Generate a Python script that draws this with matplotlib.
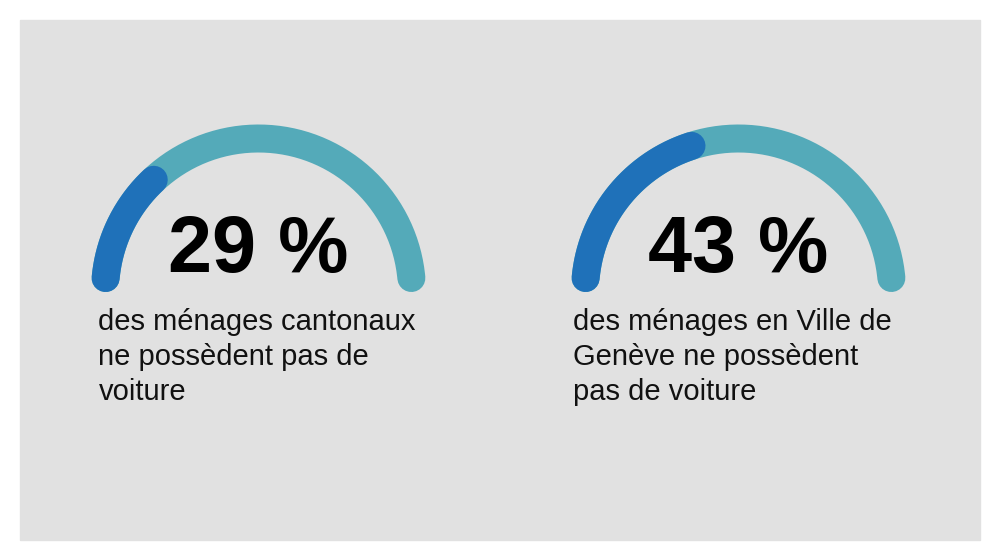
import matplotlib
matplotlib.use('Agg')
import matplotlib.pyplot as plt
from matplotlib.patches import Rectangle
import numpy as np

plt.rcParams['font.family'] = ['Liberation Sans', 'DejaVu Sans']

# data
values = [29, 43]
value_labels = ['29 %', '43 %']
captions = [
    ['des ménages cantonaux', 'ne possèdent pas de', 'voiture'],
    ['des ménages en Ville de', 'Genève ne possèdent', 'pas de voiture'],
]

# style
bg_color = '#e1e1e1'
track_color = '#54aab9'
fill_color = '#1f71b9'
centers_x = [258.5, 738.5]
center_y = 292
radius = 153.5
thick = 28          # px
text_x = [98.5, 573]
line_y = [330, 365, 400]

fig = plt.figure(figsize=(10, 5.6), dpi=100)
ax = fig.add_axes([0, 0, 1, 1])
ax.set_xlim(0, 1000)
ax.set_ylim(560, 0)
ax.axis('off')

ax.add_patch(Rectangle((20, 20), 960, 520, color=bg_color, zorder=0))

lw = thick * 72 / 100
cap = (thick / 2) / radius


def arc(cx, a0, a1):
    t = np.linspace(a0, a1, 200)
    return cx + radius * np.cos(t), center_y - radius * np.sin(t)


for i, v in enumerate(values):
    cx = centers_x[i]
    x, y = arc(cx, np.pi - cap, cap)
    ax.plot(x, y, color=track_color, lw=lw, solid_capstyle='round', zorder=1)
    end = np.pi - np.pi * v / 100 + cap
    x, y = arc(cx, np.pi - cap, end)
    ax.plot(x, y, color=fill_color, lw=lw, solid_capstyle='round', zorder=2)

    ax.text(cx, 272, value_labels[i], ha='center', va='baseline',
            fontsize=57, fontweight='bold', color='black', zorder=3)
    for j, line in enumerate(captions[i]):
        ax.text(text_x[i], line_y[j], line, ha='left', va='baseline',
                fontsize=21, color='#111111', zorder=3)

fig.savefig('out.png', dpi=100, facecolor='white')
plt.close()
